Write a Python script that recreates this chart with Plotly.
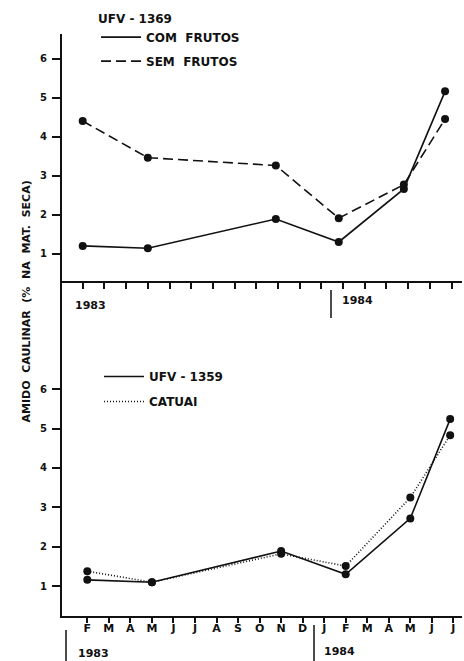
import plotly.graph_objects as go

W, H = 464, 661


def px(x):
    return x / W


def py(y):
    return 1 - y / H


# ---------------- data ----------------
months = ["F", "M", "A", "M", "J", "J", "A", "S", "O", "N", "D", "J",
          "F", "M", "A", "M", "J", "J"]
tick_idx = list(range(len(months)))
y_ticks = [1, 2, 3, 4, 5, 6]

# top panel: UFV - 1369
x_top = [0, 3, 8.9, 11.8, 14.8, 16.7]
com_frutos = [1.20, 1.14, 1.89, 1.30, 2.66, 5.16]
sem_frutos = [4.40, 3.46, 3.26, 1.91, 2.77, 4.45]

# bottom panel: cultivars
x_bot = [0, 3, 9, 12, 15, 16.85]
ufv_1359 = [1.16, 1.10, 1.89, 1.30, 2.72, 5.24]
catuai = [1.38, 1.10, 1.82, 1.51, 3.25, 4.83]

FONT = "DejaVu Sans"
BLACK = "#111111"

fig = go.Figure()


def add_series(x, y, name, dash, xa, ya, legend, group):
    fig.add_trace(go.Scatter(
        x=x, y=y, mode="lines", name=name, xaxis=xa, yaxis=ya,
        line=dict(color=BLACK, width=1.6, dash=dash),
        legend=legend, legendgroup=group, showlegend=True))
    fig.add_trace(go.Scatter(
        x=x, y=y, mode="markers", xaxis=xa, yaxis=ya,
        marker=dict(color=BLACK, size=8), showlegend=False,
        legendgroup=group))


add_series(x_top, com_frutos, "COM  FRUTOS", "solid", "x", "y", "legend", "a")
add_series(x_top, sem_frutos, "SEM  FRUTOS", "10px,5px", "x", "y", "legend", "b")
add_series(x_bot, ufv_1359, "UFV - 1359", "solid", "x2", "y2", "legend2", "c")
add_series(x_bot, catuai, "CATUAI", "1px,2px", "x2", "y2", "legend2", "d")

axis_common = dict(showgrid=False, zeroline=False, showline=True,
                   linecolor=BLACK, linewidth=2, ticks="outside",
                   tickcolor=BLACK, tickwidth=2,
                   tickfont=dict(family=FONT, size=10, color=BLACK, weight="bold"))

fig.update_layout(
    width=W, height=H,
    margin=dict(l=0, r=0, t=0, b=0),
    paper_bgcolor="white", plot_bgcolor="white",
    font=dict(family=FONT, color=BLACK, weight="bold"),
    xaxis=dict(**axis_common, domain=[px(62), px(462)],
               range=[-0.954, 17.48], tickvals=tick_idx,
               showticklabels=False, ticklen=6, anchor="y"),
    yaxis=dict(**axis_common, domain=[py(281), py(34)],
               range=[0.3, 6.63], tickvals=y_ticks, ticklen=8,
               ticklabelstandoff=3, anchor="x"),
    xaxis2=dict(**axis_common, domain=[px(62), px(462)],
                range=[-1.175, 17.40], tickvals=tick_idx, ticktext=months,
                ticklen=5, ticklabelstandoff=-4, anchor="y2"),
    yaxis2=dict(**axis_common, domain=[py(615.7), py(281)],
                range=[0.25, 8.745], tickvals=y_ticks, ticklen=8,
                ticklabelstandoff=3, anchor="x2"),
    legend=dict(x=px(96), y=py(7), xanchor="left", yanchor="top",
                bgcolor="rgba(0,0,0,0)",
                title=dict(text="UFV - 1369",
                           font=dict(family=FONT, size=12, weight="bold")),
                font=dict(family=FONT, size=12, weight="bold"),
                tracegroupgap=5, itemwidth=40),
    legend2=dict(x=px(99), y=py(362), xanchor="left", yanchor="top",
                 bgcolor="rgba(0,0,0,0)",
                 font=dict(family=FONT, size=12, weight="bold"),
                 tracegroupgap=6, itemwidth=40),
)
fig.update_xaxes(selector=dict(anchor="y2"),
                 tickfont=dict(family=FONT, size=11, color=BLACK, weight="bold"))

# year labels and separators
ann_font = dict(family=FONT, size=11, color=BLACK, weight="bold")
fig.add_annotation(text="1983", xref="paper", yref="paper", x=px(73), y=py(305),
                   xanchor="left", yanchor="middle", showarrow=False, font=ann_font)
fig.add_annotation(text="1984", xref="paper", yref="paper", x=px(340), y=py(300),
                   xanchor="left", yanchor="middle", showarrow=False, font=ann_font)
fig.add_annotation(text="1983", xref="paper", yref="paper", x=px(76), y=py(653),
                   xanchor="left", yanchor="middle", showarrow=False, font=ann_font)
fig.add_annotation(text="1984", xref="paper", yref="paper", x=px(322), y=py(651),
                   xanchor="left", yanchor="middle", showarrow=False, font=ann_font)

for (xx, y0, y1) in [(331, 290, 318), (66, 630, 661), (314, 625, 661)]:
    fig.add_shape(type="line", xref="paper", yref="paper",
                  x0=px(xx), x1=px(xx), y0=py(y0), y1=py(y1),
                  line=dict(color=BLACK, width=1.5))

# y-axis title
fig.add_annotation(text="AMIDO  CAULINAR  (%  NA  MAT.  SECA)",
                   xref="paper", yref="paper", x=px(17), y=py(302),
                   textangle=-90, showarrow=False,
                   font=dict(family=FONT, size=11, color=BLACK, weight="bold"))

fig.write_html("out.html")
